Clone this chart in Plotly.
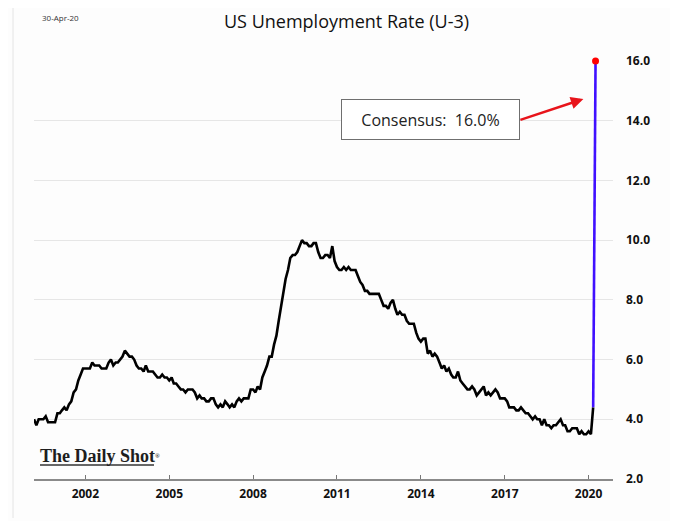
import pandas as pd
import plotly.graph_objects as go

# ---- data: US unemployment rate (U-3), monthly, Mar-2000 .. Mar-2020, plus Apr-2020 consensus
start_month = "2000-03-01"
u3_values = [
    4.0, 3.8, 4.0, 4.0, 4.0, 4.1, 3.9, 3.9, 3.9, 3.9,                     # 2000 (Mar-Dec)
    4.2, 4.2, 4.3, 4.4, 4.3, 4.5, 4.6, 4.9, 5.0, 5.3, 5.5, 5.7,           # 2001
    5.7, 5.7, 5.7, 5.9, 5.8, 5.8, 5.8, 5.7, 5.7, 5.7, 5.9, 6.0,           # 2002
    5.8, 5.9, 5.9, 6.0, 6.1, 6.3, 6.2, 6.1, 6.1, 6.0, 5.8, 5.7,           # 2003
    5.7, 5.6, 5.8, 5.6, 5.6, 5.6, 5.5, 5.4, 5.4, 5.5, 5.4, 5.4,           # 2004
    5.3, 5.4, 5.2, 5.2, 5.1, 5.0, 5.0, 4.9, 5.0, 5.0, 5.0, 4.9,           # 2005
    4.7, 4.8, 4.7, 4.7, 4.6, 4.6, 4.7, 4.7, 4.5, 4.4, 4.5, 4.4,           # 2006
    4.6, 4.5, 4.4, 4.5, 4.4, 4.6, 4.7, 4.6, 4.7, 4.7, 4.7, 5.0,           # 2007
    5.0, 4.9, 5.1, 5.0, 5.4, 5.6, 5.8, 6.1, 6.1, 6.5, 6.8, 7.3,           # 2008
    7.8, 8.3, 8.7, 9.0, 9.4, 9.5, 9.5, 9.6, 9.8, 10.0, 9.9, 9.9,          # 2009
    9.8, 9.8, 9.9, 9.9, 9.6, 9.4, 9.4, 9.5, 9.5, 9.4, 9.8, 9.3,           # 2010
    9.1, 9.0, 9.0, 9.1, 9.0, 9.1, 9.0, 9.0, 9.0, 8.8, 8.6, 8.5,           # 2011
    8.3, 8.3, 8.2, 8.2, 8.2, 8.2, 8.2, 8.0, 7.8, 7.8, 7.7, 7.9,           # 2012
    8.0, 7.7, 7.5, 7.6, 7.5, 7.5, 7.3, 7.2, 7.2, 7.2, 6.9, 6.7,           # 2013
    6.6, 6.7, 6.7, 6.2, 6.3, 6.1, 6.2, 6.1, 5.9, 5.7, 5.8, 5.6,           # 2014
    5.7, 5.5, 5.4, 5.4, 5.6, 5.3, 5.2, 5.1, 5.0, 5.0, 5.1, 5.0,           # 2015
    4.8, 4.9, 5.0, 5.1, 4.8, 4.9, 4.8, 4.9, 5.0, 4.9, 4.7, 4.7,           # 2016
    4.7, 4.6, 4.4, 4.4, 4.4, 4.3, 4.3, 4.4, 4.3, 4.2, 4.2, 4.1,           # 2017
    4.0, 4.1, 4.0, 4.0, 3.8, 4.0, 3.8, 3.8, 3.7, 3.8, 3.8, 3.9,           # 2018
    4.0, 3.8, 3.8, 3.6, 3.6, 3.7, 3.7, 3.7, 3.5, 3.6, 3.5, 3.5,           # 2019
    3.6, 3.5, 4.4,                                                         # 2020 (Jan-Mar)
]
consensus_value = 16.0          # Apr-2020 consensus
consensus_month = "2020-04-01"

x_tick_years = [2002, 2005, 2008, 2011, 2014, 2017, 2020]
y_tick_values = [2.0, 4.0, 6.0, 8.0, 10.0, 12.0, 14.0, 16.0]

title_text = "US Unemployment Rate (U-3)"
date_text = "30-Apr-20"

# ---- build
dates = pd.date_range(start_month, periods=len(u3_values), freq="MS")
last_date, last_val = dates[-1], u3_values[-1]

# page body has an 8px margin: figure is drawn from (8, 8) of the window
W, H = 670, 513
ML, MR, MT, MB = 26, 65, 53, 42
PW, PH = W - ML - MR, H - MT - MB   # plot area size in px

fig = go.Figure()
fig.add_trace(go.Scatter(x=dates, y=u3_values, mode="lines",
                         line=dict(color="#000000", width=2.6), hoverinfo="skip"))
fig.add_trace(go.Scatter(x=[last_date, pd.Timestamp(consensus_month)],
                         y=[last_val, consensus_value], mode="lines",
                         line=dict(color="#4010ff", width=2.6), hoverinfo="skip"))
fig.add_trace(go.Scatter(x=[pd.Timestamp(consensus_month)], y=[consensus_value],
                         mode="markers", marker=dict(color="#ff0000", size=7),
                         cliponaxis=False, hoverinfo="skip"))

fig.update_layout(
    width=W, height=H,
    margin=dict(l=ML, r=MR, t=MT, b=MB),
    paper_bgcolor="#fdfdfd", plot_bgcolor="#fdfdfd",
    showlegend=False,
    font=dict(family="Open Sans", color="#111111"),
)

# title (as a paper annotation, kept fully inside the figure)
fig.add_annotation(text=title_text, xref="paper", yref="paper",
                   x=(346 - 34) / PW, y=1 + (61 - 8) / PH, xanchor="center", yanchor="top",
                   showarrow=False, borderpad=0,
                   font=dict(family="Open Sans", size=18, color="#111111"))

fig.update_xaxes(
    type="date",
    range=["2000-03-01", "2020-11-15"],
    tickvals=[f"{y}-01-01" for y in x_tick_years],
    ticktext=[str(y) for y in x_tick_years],
    ticks="inside", ticklen=4, tickcolor="#777777", tickwidth=1,
    ticklabelstandoff=3,
    showline=True, linecolor="#8a8a8a", linewidth=1.5,
    showgrid=False, zeroline=False,
    tickfont=dict(family="Open Sans", size=12, color="#111111", weight="bold"),
)
fig.update_yaxes(
    side="right",
    range=[2, 16],
    tickvals=y_tick_values,
    ticktext=[f"{v:.1f}" for v in y_tick_values],
    ticks="", ticklabelstandoff=12,
    showgrid=True, gridcolor="#e6e6e6", gridwidth=1,
    showline=False, zeroline=False,
    tickfont=dict(family="Open Sans", size=12, color="#111111", weight="bold"),
)

# date stamp
fig.add_annotation(text=date_text, xref="paper", yref="paper",
                   x=(40 - 34) / PW, y=1 + (61 - 17) / PH, xanchor="left", yanchor="middle",
                   showarrow=False, font=dict(family="Open Sans", size=8, color="#333333"))

# consensus box with red arrow
fig.add_annotation(text=f"Consensus:  {consensus_value:.1f}%", xref="x", yref="y",
                   x="2019-10-25", y=14.73, ax=-63, ay=21, axref="pixel", ayref="pixel",
                   xanchor="right", yanchor="middle",
                   showarrow=True, arrowhead=2, arrowsize=1, arrowwidth=2.5,
                   arrowcolor="#e8141b",
                   width=171, height=33, borderpad=3,
                   bordercolor="#6f6f6f", borderwidth=1, bgcolor="#ffffff",
                   font=dict(family="Open Sans", size=16, color="#222222"))

# logo
fig.add_annotation(text="The Daily Shot<span style='font-size:9px'><sup>®</sup></span>",
                   xref="paper", yref="paper",
                   x=(38 - 34) / PW, y=(479 - 456) / PH, xanchor="left", yanchor="middle",
                   showarrow=False,
                   font=dict(family="Liberation Serif", size=18, color="#1e1e1e", weight="bold"))
fig.add_shape(type="line", xref="paper", yref="paper",
              x0=(40 - 34) / PW, x1=(154 - 34) / PW,
              y0=(479 - 465) / PH, y1=(479 - 465) / PH,
              line=dict(color="#333333", width=1.5))

# faint left frame line of the original screenshot
fig.add_shape(type="line", xref="paper", yref="paper",
              x0=(13 - 34) / PW, x1=(13 - 34) / PW, y0=-(518 - 479) / PH, y1=1 + (61 - 8) / PH,
              line=dict(color="#e4e4e4", width=1))

fig.write_html("out.html")
